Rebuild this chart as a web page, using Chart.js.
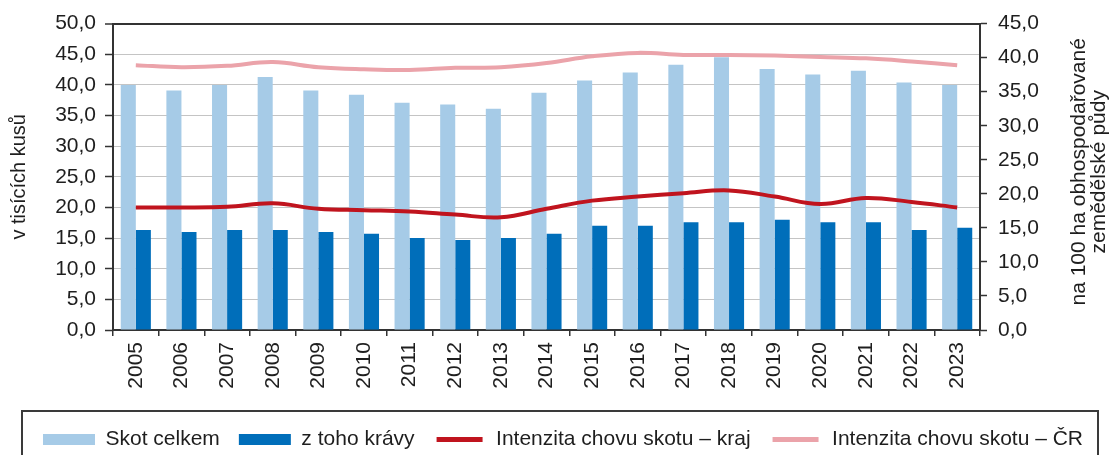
<!DOCTYPE html>
<html><head><meta charset="utf-8">
<script src="https://cdn.jsdelivr.net/npm/chart.js@4/dist/chart.umd.min.js"></script>
<style>html,body{margin:0;padding:0;background:#fff;}#wrap{width:1116px;height:455px;position:relative;}</style>
</head><body><div id="wrap"><canvas id="c" width="1116" height="455"></canvas></div>
<script>
const years = ['2005','2006','2007','2008','2009','2010','2011','2012','2013','2014','2015','2016','2017','2018','2019','2020','2021','2022','2023'];
const skotCelkem = [40.0,39.1,40.0,41.3,39.1,38.4,37.1,36.8,36.1,38.7,40.7,42.0,43.3,44.5,42.6,41.7,42.3,40.4,40.0];
const zTohoKravy = [16.3,16.0,16.3,16.3,16.0,15.7,15.0,14.7,15.0,15.7,17.0,17.0,17.6,17.6,18.0,17.6,17.6,16.3,16.7];
const intenzitaKraj = [18.0,18.0,18.1,18.6,17.8,17.6,17.4,16.95,16.55,17.8,19.0,19.6,20.1,20.5,19.6,18.5,19.4,18.8,18.0];
const intenzitaCR = [38.9,38.6,38.8,39.35,38.6,38.3,38.2,38.5,38.6,39.2,40.2,40.7,40.4,40.4,40.3,40.1,39.9,39.45,38.9];
const leftTicks = [0,5,10,15,20,25,30,35,40,45,50];
const rightTicks = [0,5,10,15,20,25,30,35,40,45];
const seriesNames = ['Skot celkem','z toho krávy','Intenzita chovu skotu – kraj','Intenzita chovu skotu – ČR'];
const leftTitle = 'v tisících kusů';
const rightTitle = ['na 100 ha obhospodařované','zemědělské půdy'];

const FONT = '"Liberation Sans", Arial, sans-serif';
const TXT = '#1e1e1e';
const fmt = v => Number(v).toFixed(1).replace('.', ',');

const decor = {
  id: 'decor',
  afterDraw(chart) {
    const ctx = chart.ctx;
    const ca = chart.chartArea;
    const cy = (ca.top + ca.bottom) / 2;
    ctx.save();
    ctx.strokeStyle = '#3a3a3a';
    ctx.lineWidth = 2;
    ctx.strokeRect(22, 411, 1076, 60);
    ctx.fillStyle = TXT;
    ctx.textAlign = 'center';
    ctx.textBaseline = 'middle';
    ctx.font = '20px ' + FONT;
    ctx.save(); ctx.translate(19, cy); ctx.rotate(-Math.PI / 2); ctx.fillText(leftTitle, 0, 0); ctx.restore();
    ctx.font = '21px ' + FONT;
    ctx.save(); ctx.translate(1079, cy - 5); ctx.rotate(-Math.PI / 2); ctx.fillText(rightTitle[0], 0, 0); ctx.restore();
    ctx.save(); ctx.translate(1099, cy - 5); ctx.rotate(-Math.PI / 2); ctx.fillText(rightTitle[1], 0, 0); ctx.restore();
    ctx.restore();
  }
};

new Chart(document.getElementById('c'), {
  data: {
    labels: years,
    datasets: [
      { type: 'bar', label: seriesNames[0], data: skotCelkem, backgroundColor: '#A6CBE7', yAxisID: 'y', order: 2, categoryPercentage: 0.66, barPercentage: 1.0 },
      { type: 'bar', label: seriesNames[1], data: zTohoKravy, backgroundColor: '#006EBA', yAxisID: 'y', order: 2, categoryPercentage: 0.66, barPercentage: 1.0 },
      { type: 'line', label: seriesNames[2], data: intenzitaKraj, borderColor: '#C0141E', backgroundColor: '#C0141E', borderWidth: 4, pointRadius: 0, tension: 0.4, yAxisID: 'y2', order: 1 },
      { type: 'line', label: seriesNames[3], data: intenzitaCR, borderColor: '#EBA3AA', backgroundColor: '#EBA3AA', borderWidth: 4, pointRadius: 0, tension: 0.4, yAxisID: 'y2', order: 1 }
    ]
  },
  options: {
    responsive: false,
    animation: false,
    layout: { padding: { top: 22, left: 14, right: 4, bottom: -5 } },
    plugins: {
      tooltip: { enabled: false },
      legend: {
        position: 'bottom',
        labels: {
          font: { family: FONT, size: 21 },
          color: TXT,
          boxWidth: 52,
          boxHeight: 11,
          padding: 19,
          generateLabels: chart => chart.data.datasets.map((ds, i) => ({
            text: ds.label,
            datasetIndex: i,
            fillStyle: ds.type === 'line' ? ds.borderColor : ds.backgroundColor,
            strokeStyle: '#ffffff',
            lineWidth: ds.type === 'line' ? 6 : 0,
            fontColor: TXT,
            hidden: false
          }))
        }
      }
    },
    scales: {
      x: {
        offset: true,
        grid: { offset: true, drawOnChartArea: false, color: '#333', tickLength: 6, lineWidth: 1.5 },
        border: { color: '#333', width: 2 },
        ticks: { minRotation: 90, maxRotation: 90, autoSkip: false, padding: 6, color: TXT, font: { family: FONT, size: 21 } },
        afterFit(s) { s.height = 80; }
      },
      y: {
        position: 'left',
        min: 0, max: 50,
        afterBuildTicks(s) { s.ticks = leftTicks.map(v => ({ value: v })); },
        ticks: { callback: v => fmt(v), padding: 9, color: TXT, font: { family: FONT, size: 21 } },
        grid: {
          color: c => (c.tick && c.tick.value === 50) ? '#333' : '#C4C4C4',
          lineWidth: c => (c.tick && c.tick.value === 50) ? 2 : 1,
          tickColor: '#333', tickWidth: 1.5, tickLength: 8
        },
        border: { color: '#333', width: 2 },
        afterFit(s) { s.width = 99; }
      },
      y2: {
        position: 'right',
        min: 0, max: 45,
        afterBuildTicks(s) { s.ticks = rightTicks.map(v => ({ value: v })); },
        ticks: { callback: v => fmt(v), padding: 11, color: TXT, font: { family: FONT, size: 21 } },
        grid: { drawOnChartArea: false, tickColor: '#333', tickWidth: 1.5, tickLength: 7 },
        border: { color: '#333', width: 2 },
        afterFit(s) { s.width = 132; }
      }
    }
  },
  plugins: [decor]
});
</script></body></html>
